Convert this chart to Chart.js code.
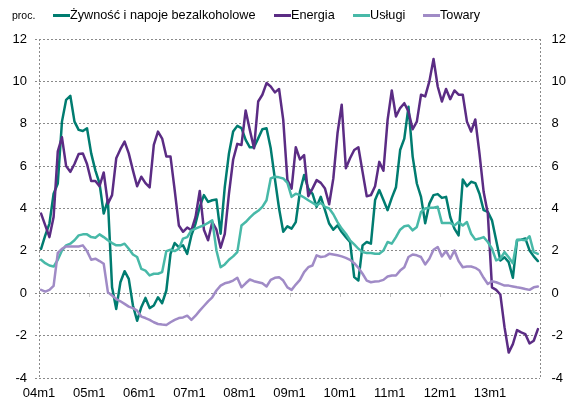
<!DOCTYPE html>
<html><head><meta charset="utf-8">
<script src="https://cdn.jsdelivr.net/npm/chart.js@4/dist/chart.umd.min.js"></script>
<style>
html,body{margin:0;padding:0;background:#fff;}
#wrap{position:relative;width:567px;height:400px;overflow:hidden;}
canvas{position:absolute;left:0;top:0;}
.lg{position:absolute;top:7px;font-family:"Liberation Sans",Arial,sans-serif;font-size:12.7px;color:#000;white-space:nowrap;line-height:16px;}
.lg i{display:inline-block;width:17px;height:3px;vertical-align:middle;}
#unit{position:absolute;left:12px;top:8px;font-family:"Liberation Sans",Arial,sans-serif;font-size:10.5px;line-height:14px;color:#000;}
</style></head>
<body>
<div id="wrap">
<canvas id="c" width="567" height="400"></canvas>
<div id="unit">proc.</div>
</div>
<script>
// ---- data ----
const years = ['04','05','06','07','08','09','10','11','12','13'];
const categories = [];
years.forEach(y => { for (let m = 1; m <= 12; m++) categories.push(y + 'm' + m); });

const seriesNames = ['Żywność i napoje bezalkoholowe', 'Energia', 'Usługi', 'Towary'];
const seriesColors = ['#007C70', '#5B2C84', '#48B9A8', '#A08BC6'];
const legendLeft = [53, 274, 353, 423];

const zywnosc = [
 2.1,2.73,3.29,4.7,5.18,8.1,9.13,9.32,8.1,7.71,7.66,7.79,
 6.6,5.8,5.18,3.76,4.39,0.28,-0.74,0.52,1.04,0.68,-0.58,-1.3,
 -0.66,-0.22,-0.7,-0.58,-0.19,-0.47,0.13,1.86,2.37,2.18,2.26,1.86,
 2.73,3.29,4.08,4.63,4.31,4.39,4.42,2.81,5.02,6.6,7.63,7.9,
 7.79,7.24,6.89,6.89,7.31,7.74,7.79,6.84,5.4,4.0,2.9,3.16,
 3.05,3.36,4.79,5.58,4.94,4.7,4.08,4.55,3.92,3.29,3.0,3.2,
 2.89,2.65,2.42,0.76,0.6,2.26,2.42,2.34,4.4,4.87,4.4,3.92,
 4.5,5.0,6.76,7.3,8.8,6.45,5.18,4.55,3.3,4.23,4.63,4.68,
 4.5,4.55,3.6,3.05,2.73,5.37,5.05,5.26,5.2,4.7,3.92,3.84,
 3.44,2.5,1.55,1.7,1.47,0.73,2.5,2.53,2.58,2.02,1.74,1.52
];
const energia = [
 3.76,3.2,2.65,3.6,6.7,7.36,6.0,5.73,6.1,6.57,6.6,6.1,
 5.3,5.3,5.05,5.7,4.23,4.63,6.37,6.8,7.16,6.6,5.8,5.05,
 5.5,5.2,5.0,7.0,7.63,7.3,6.45,6.45,4.87,3.2,2.9,3.1,
 2.97,3.6,4.83,3.0,2.5,3.36,3.0,2.15,2.8,4.7,6.3,7.05,
 7.0,8.63,7.7,6.84,9.05,9.37,9.92,9.76,9.48,9.64,8.18,5.34,
 4.94,6.89,6.32,6.52,4.58,4.94,5.34,5.21,4.94,4.2,5.42,7.55,
 8.9,5.9,6.37,6.76,6.89,5.73,4.58,4.63,5.05,6.2,5.78,8.18,
 9.57,8.34,8.74,8.97,8.58,7.74,8.1,9.37,9.29,10.0,11.06,9.76,
 9.05,9.64,9.16,9.57,9.37,9.37,8.1,7.63,8.2,6.6,4.79,3.76,
 0.28,0.16,-0.06,-1.6,-2.8,-2.4,-1.74,-1.85,-1.93,-2.37,-2.24,-1.69
];
const uslugi = [
 1.58,1.42,1.31,1.26,1.58,2.02,2.26,2.34,2.5,2.73,2.78,2.78,
 2.65,2.62,2.78,2.65,2.5,2.37,2.26,2.26,2.34,2.1,1.83,1.71,
 1.15,1.07,0.84,0.92,0.92,1.0,1.99,2.05,1.99,2.1,2.58,2.65,
 2.97,3.05,3.13,3.21,3.32,3.44,2.02,1.23,1.36,1.58,1.74,1.94,
 3.2,3.36,3.57,3.76,3.89,4.08,4.39,5.42,5.5,5.47,5.42,5.21,
 4.55,4.7,4.63,4.52,4.39,4.27,4.15,4.27,4.08,4.0,3.73,3.36,
 3.05,2.81,2.5,2.31,2.1,1.94,1.9,1.9,1.86,1.86,2.02,2.42,
 2.34,2.65,3.0,3.16,3.2,2.97,3.13,3.84,4.0,4.04,4.04,4.08,
 3.32,3.32,3.32,3.2,3.36,3.2,3.36,2.81,2.53,2.58,2.65,2.42,
 2.1,1.55,1.63,1.94,1.7,1.42,2.53,2.53,2.5,2.69,1.94,1.86
];
const towary = [
 0.16,0.08,0.16,0.35,1.9,2.1,2.21,2.21,2.21,2.21,2.26,1.99,
 1.58,1.63,1.52,1.39,0.05,-0.11,-0.27,-0.38,-0.5,-0.63,-0.7,-0.82,
 -1.1,-1.17,-1.26,-1.37,-1.45,-1.48,-1.5,-1.37,-1.26,-1.17,-1.14,-1.06,
 -1.26,-1.06,-0.82,-0.6,-0.38,-0.19,0.13,0.36,0.47,0.52,0.6,0.73,
 0.28,0.47,0.65,0.57,0.52,0.47,0.32,0.63,0.73,0.76,0.6,0.28,
 0.16,0.41,0.63,1.0,1.23,1.31,1.79,1.71,1.74,1.86,1.83,1.79,
 1.74,1.67,1.58,1.42,1.2,0.92,0.6,0.52,0.55,0.57,0.63,0.79,
 0.84,0.84,1.07,1.23,1.71,1.83,1.79,1.71,1.36,1.63,2.05,2.18,
 1.74,1.99,1.63,2.02,1.52,1.23,1.26,1.26,1.2,1.07,0.73,0.44,
 0.57,0.52,0.44,0.36,0.36,0.32,0.28,0.25,0.2,0.16,0.28,0.32
];
const yTickValues = [-4,-2,0,2,4,6,8,10,12];

// ---- legend (HTML text) ----
const wrap = document.getElementById('wrap');
seriesNames.forEach((n, k) => {
  const d = document.createElement('div');
  d.className = 'lg';
  d.style.left = legendLeft[k] + 'px';
  const sw = document.createElement('i');
  sw.style.background = seriesColors[k];
  d.appendChild(sw);
  d.appendChild(document.createTextNode(n));
  wrap.appendChild(d);
});

// ---- chart ----
const GRID = '#8a8a8a';
const FONT = {family: '"Liberation Sans", Arial, sans-serif', size: 13};
const frame = {
  id: 'frame',
  beforeDatasetsDraw(chart) {
    const {ctx, chartArea: a, scales} = chart;
    const x = scales.x, y = scales.y;
    ctx.save();
    ctx.strokeStyle = GRID; ctx.lineWidth = 1; ctx.setLineDash([2, 2]);
    [a.left, a.right].forEach(px => {
      const p = Math.round(px) + 0.5;
      ctx.beginPath(); ctx.moveTo(p, a.top); ctx.lineTo(p, a.bottom); ctx.stroke();
    });
    ctx.setLineDash([1, 1]);
    const y0 = Math.round(y.getPixelForValue(0)) + 0.5;
    for (let i = 12; i < categories.length; i += 12) {
      const px = Math.round((x.getPixelForValue(i - 1) + x.getPixelForValue(i)) / 2) + 0.5;
      ctx.beginPath(); ctx.moveTo(px, y0); ctx.lineTo(px, y0 + 3); ctx.stroke();
    }
    ctx.restore();
  }
};

const allData = [zywnosc, energia, uslugi, towary];
new Chart(document.getElementById('c'), {
  type: 'line',
  data: {
    labels: categories,
    datasets: allData.map((d, k) => ({
      label: seriesNames[k], data: d, borderColor: seriesColors[k], backgroundColor: seriesColors[k],
      borderWidth: 2.5, pointRadius: 0, tension: 0, fill: false, order: 4 - k,
      borderJoinStyle: 'round', borderCapStyle: 'round'
    }))
  },
  options: {
    responsive: false, animation: false, devicePixelRatio: 1,
    layout: {padding: {top: 39, left: 0, right: 0, bottom: 0}},
    plugins: {legend: {display: false}, tooltip: {enabled: false}},
    scales: {
      x: {
        type: 'category', offset: true,
        grid: {display: false, drawTicks: false},
        border: {display: false},
        ticks: {
          autoSkip: false, maxRotation: 0, minRotation: 0, padding: 8, color: '#000', font: FONT,
          labelOffset: -2,
          callback: (v, i) => (i % 12 === 0 ? categories[i] : '')
        },
        afterFit: s => { s.height = 22; }
      },
      y: {
        position: 'left', min: -4, max: 12,
        afterBuildTicks: s => { s.ticks = yTickValues.map(v => ({value: v})); },
        grid: {color: GRID, lineWidth: 1, drawTicks: true, tickLength: 4, tickBorderDash: [2, 2], tickColor: GRID},
        border: {display: false, dash: [2, 2]},
        ticks: {padding: 8, color: '#000', font: FONT},
        afterFit: s => { s.width = 39; }
      },
      y2: {
        position: 'right', min: -4, max: 12,
        afterBuildTicks: s => { s.ticks = yTickValues.map(v => ({value: v})); },
        grid: {display: false, drawTicks: false},
        border: {display: false},
        ticks: {padding: 11.5, color: '#000', font: FONT},
        afterFit: s => { s.width = 27; }
      }
    }
  },
  plugins: [frame]
});
</script>
</body></html>
